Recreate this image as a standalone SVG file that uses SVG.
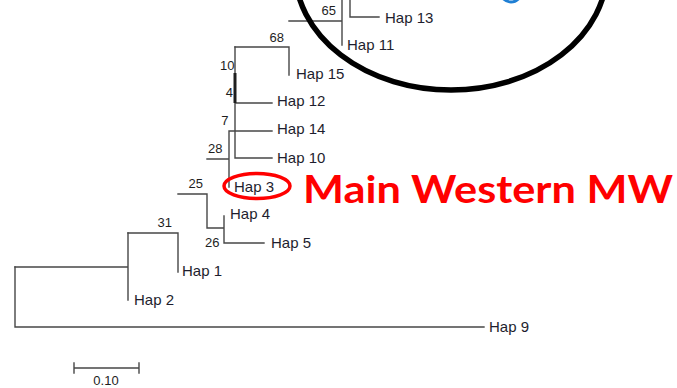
<svg xmlns="http://www.w3.org/2000/svg" width="677" height="388" viewBox="0 0 677 388">
<style>
.br{stroke:#474747;stroke-width:1.4;fill:none;stroke-linecap:square}
.lab{font-family:"Liberation Sans",Arial,sans-serif;font-size:15px;fill:#1e1e2e}
.bs{font-family:"Liberation Sans",Arial,sans-serif;font-size:13px;fill:#1e1e1e;text-anchor:end}
</style>
<rect width="677" height="388" fill="#fff"/>
<g id="connectors">
<path class="br" d="M15,267V327H484"/>
<path class="br" d="M15,267H128V233M128,267V300"/>
<path class="br" d="M128,233H178V272"/>
<path class="br" d="M178,194H207V228H224V216M224,228V243H264"/>
<path class="br" d="M207,159H229V131H272M229,159V187"/>
<path class="br" d="M235,47V158H272M235,103H272"/>
<path d="M235,73V103" stroke="#1e1e1e" stroke-width="3"/>
<path class="br" d="M235,47H289V75M289,21H342V0M342,21V45"/>
<path class="br" d="M350,0V17H379"/>
</g>
<g id="Hap13"><text class="lab" x="385" y="23">Hap 13</text></g>
<g id="Hap11"><text class="lab" x="347" y="50">Hap 11</text></g>
<g id="Hap15"><text class="lab" x="296" y="78.5">Hap 15</text></g>
<g id="Hap12"><text class="lab" x="277" y="106">Hap 12</text></g>
<g id="Hap14"><text class="lab" x="277" y="134">Hap 14</text></g>
<g id="Hap10"><text class="lab" x="277" y="162.5">Hap 10</text></g>
<g id="Hap3"><text class="lab" x="234" y="192">Hap 3</text></g>
<g id="Hap4"><text class="lab" x="230" y="218.5">Hap 4</text></g>
<g id="Hap5"><text class="lab" x="271" y="248">Hap 5</text></g>
<g id="Hap1"><text class="lab" x="182" y="276">Hap 1</text></g>
<g id="Hap2"><text class="lab" x="134" y="304.5">Hap 2</text></g>
<g id="Hap9"><text class="lab" x="489" y="332">Hap 9</text></g>
<g id="bootstrap">
<text class="bs" x="336" y="14.7">65</text>
<text class="bs" x="284" y="41.5">68</text>
<text class="bs" x="234.5" y="70">10</text>
<text class="bs" x="233" y="97">4</text>
<text class="bs" x="228.5" y="124.5">7</text>
<text class="bs" x="222.5" y="153">28</text>
<text class="bs" x="203" y="188">25</text>
<text class="bs" x="172" y="226.5">31</text>
<text class="bs" x="219.5" y="246.5">26</text>
</g>
<g id="scalebar">
<path class="br" d="M74,368H139M74,363V373M139,363V373"/>
<text x="106" y="385" font-family="Liberation Sans,Arial,sans-serif" font-size="13" fill="#1e1e1e" text-anchor="middle">0.10</text>
</g>
<g id="highlight-MW">
<ellipse cx="257" cy="186" rx="33" ry="12.5" fill="none" stroke="#ff0000" stroke-width="3.5"/>
<text x="303" y="203" font-family="Lato,'Open Sans',sans-serif" font-weight="bold" font-size="38" fill="#ff0000" textLength="370" lengthAdjust="spacingAndGlyphs">Main Western MW</text>
</g>
<g id="clade-oval">
<ellipse cx="451" cy="-30" rx="156" ry="120" fill="none" stroke="#000" stroke-width="5.5"/>
</g>
<g id="blue-mark">
<ellipse cx="511" cy="-30" rx="17" ry="32" fill="none" stroke="#1f7fd4" stroke-width="3"/>
</g>
</svg>
